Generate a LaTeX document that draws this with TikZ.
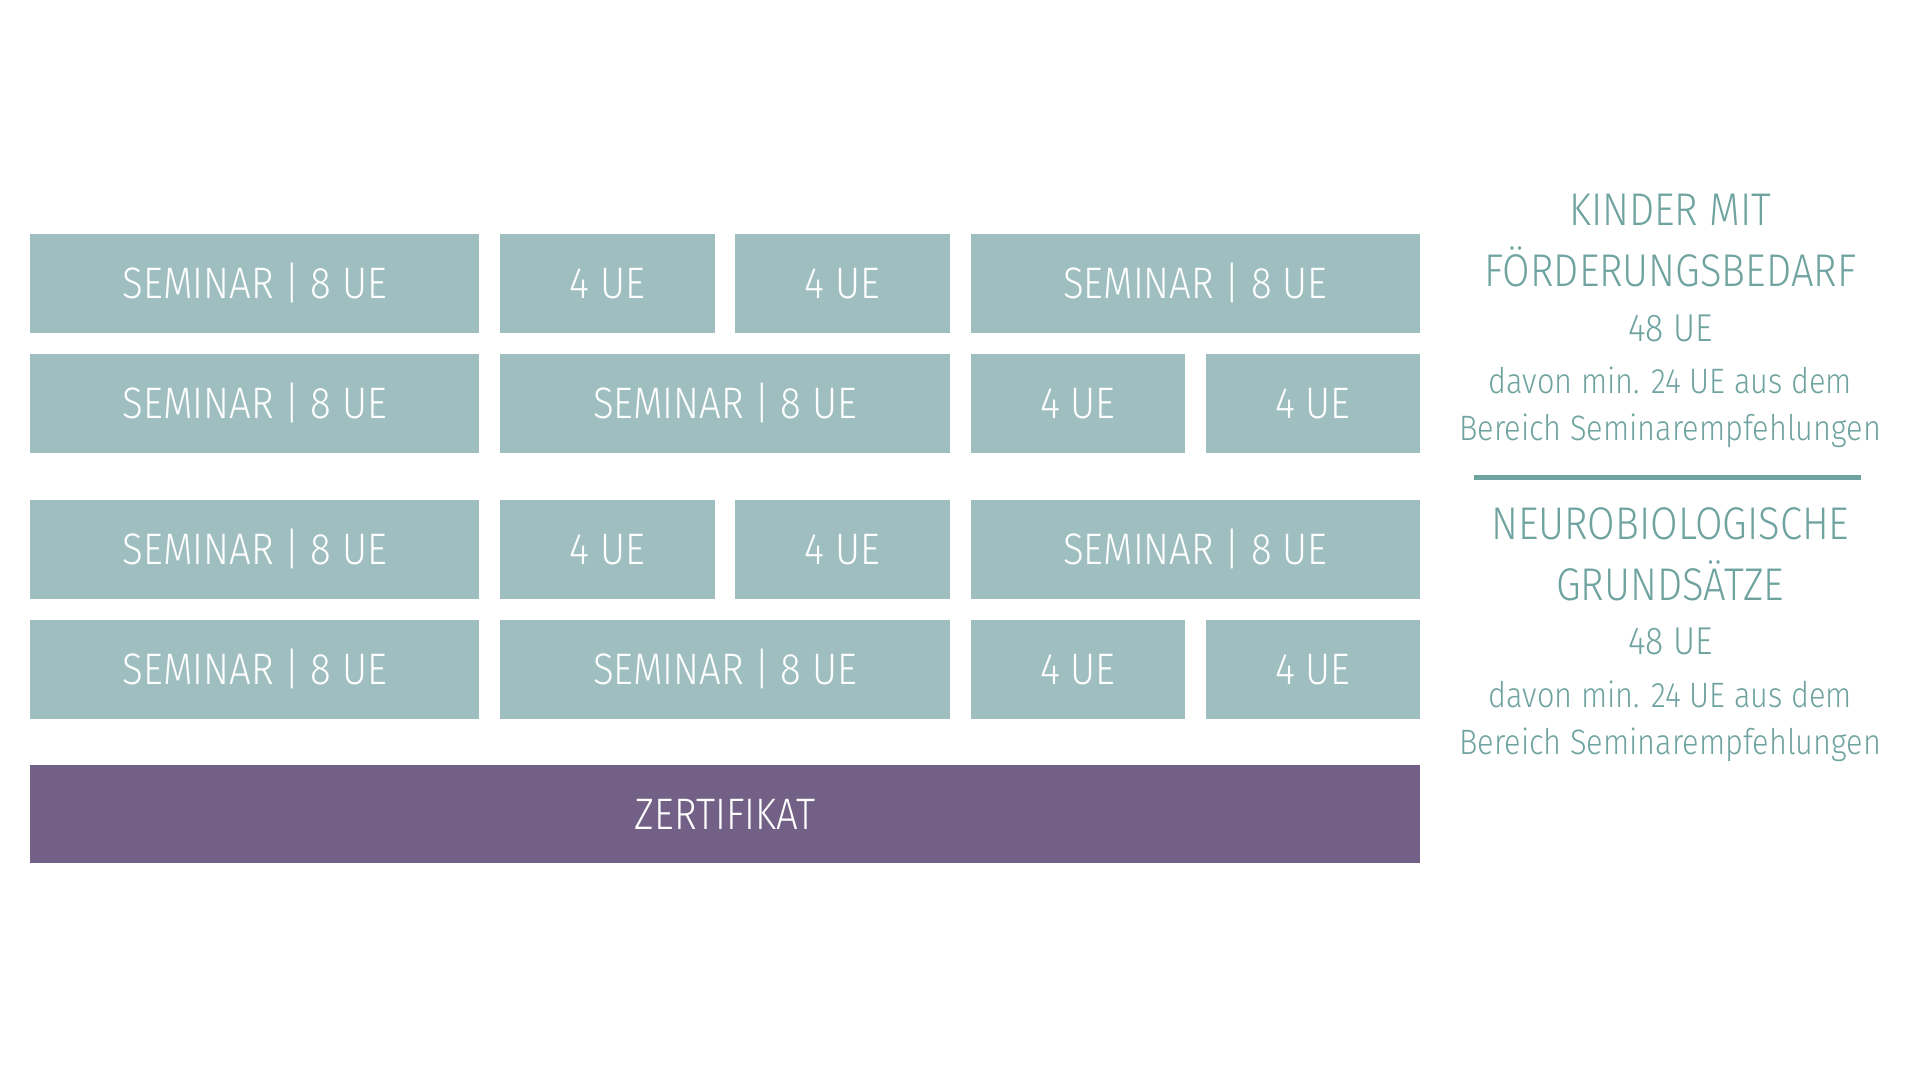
\documentclass[tikz,border=0pt]{standalone}
\usepackage{fontspec}
\setmainfont{Fira Sans Light}[FakeStretch=0.87]
\usepackage{tikz}

\definecolor{ueteal}{HTML}{9EBEBF}
\definecolor{txteal}{HTML}{6FA3A0}
\definecolor{zertlila}{HTML}{726086}

\def\u{0.347pt}
\tikzset{
  ue/.style={fill=ueteal, text=white, inner sep=0pt, anchor=west,
    minimum height=81*\u, font=\fontsize{12.5}{15}\selectfont},
  wide/.style={minimum width=367*\u},
  narrow/.style={minimum width=175*\u},
  head/.style={text=txteal, inner sep=0pt, font=\fontsize{13}{15}\selectfont},
  sub/.style={text=txteal, inner sep=0pt, font=\fontsize{10}{12}\selectfont},
}

\begin{document}
\begin{tikzpicture}[x=\u, y=-\u]
\useasboundingbox (0,0) rectangle (1568,882);

% Bloecke mit Seminaren
\foreach \r/\y in {1/231.5, 3/448.5} {
  \node[ue, wide]   (r\r a) at (24,\y)  {SEMINAR | 8 UE};
  \node[ue, narrow] (r\r b) at (408,\y) {4 UE};
  \node[ue, narrow] (r\r c) at (600,\y) {4 UE};
  \node[ue, wide]   (r\r d) at (792,\y) {SEMINAR | 8 UE};
}
\foreach \r/\y in {2/329.5, 4/546.5} {
  \node[ue, wide]   (r\r a) at (24,\y)  {SEMINAR | 8 UE};
  \node[ue, wide]   (r\r b) at (408,\y) {SEMINAR | 8 UE};
  \node[ue, narrow] (r\r c) at (792,\y) {4 UE};
  \node[ue, narrow] (r\r d) at (984,\y) {4 UE};
}
\node[ue, fill=zertlila, minimum width=1135*\u, minimum height=80*\u] (zert) at (24,665) {ZERTIFIKAT};

% rechte Spalte
\node[head] (k1) at (1364,171) {KINDER MIT};
\node[head] (k2) at (1364,218) {FÖRDERUNGSBEDARF};
\node[sub, font=\fontsize{11}{13}\selectfont] (k3) at (1364,268) {48 UE};
\node[sub] (k4) at (1364,311) {davon min. 24 UE aus dem};
\node[sub] (k5) at (1364,352) {Bereich Seminarempfehlungen};

\coordinate (sepL) at (1204,390);
\coordinate (sepR) at (1520,390);
\draw[txteal, line width=4*\u] (sepL) -- (sepR);

\node[head] (n1) at (1364,428) {NEUROBIOLOGISCHE};
\node[head] (n2) at (1364,474) {GRUNDSÄTZE};
\node[sub, font=\fontsize{11}{13}\selectfont] (n3) at (1364,524) {48 UE};
\node[sub] (n4) at (1364,567) {davon min. 24 UE aus dem};
\node[sub] (n5) at (1364,608) {Bereich Seminarempfehlungen};

\end{tikzpicture}
\end{document}
